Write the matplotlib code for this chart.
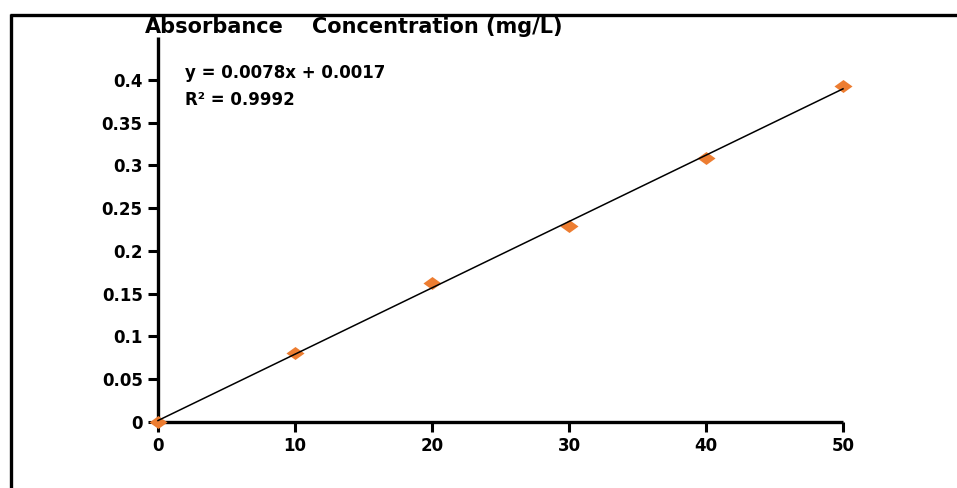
import numpy as np
import matplotlib
matplotlib.use("Agg")
import matplotlib.pyplot as plt
from matplotlib.lines import Line2D
from matplotlib.path import Path

# Calibration standards
concentration = [0, 10, 20, 30, 40, 50]          # mg/L
absorbance = [0.0, 0.0806, 0.1625, 0.229, 0.3086, 0.3927]

x_ticks = [0, 10, 20, 30, 40, 50]
y_ticks = [0, 0.05, 0.1, 0.15, 0.2, 0.25, 0.3, 0.35, 0.4]
x_tick_labels = ["0", "10", "20", "30", "40", "50"]
y_tick_labels = ["0", "0.05", "0.1", "0.15", "0.2", "0.25", "0.3", "0.35", "0.4"]

title_text = "Absorbance"
xlabel_text = "Concentration (mg/L)"

W, H = 957, 488
fig = plt.figure(figsize=(W / 100, H / 100), dpi=100)
fig.patch.set_facecolor("white")

# chart frame (top and left edges)
fig.add_artist(Line2D([10 / W, 1.0], [1 - 15 / H, 1 - 15 / H], color="black", lw=2.4,
                      transform=fig.transFigure, solid_capstyle="butt"))
fig.add_artist(Line2D([11 / W, 11 / W], [0.0, 1 - 14 / H], color="black", lw=2.4,
                      transform=fig.transFigure, solid_capstyle="butt"))

left, right, bottom, top = 158, 843, 422, 37
ax = fig.add_axes([left / W, 1 - bottom / H, (right - left) / W, (bottom - top) / H])
ax.set_xlim(0, 50)
ax.set_ylim(0, 0.45)
for s in ("top", "right"):
    ax.spines[s].set_visible(False)
for s in ("left", "bottom"):
    ax.spines[s].set_linewidth(2.4)
    ax.spines[s].set_capstyle("butt")
ax.set_xticks(x_ticks, x_tick_labels)
ax.set_yticks(y_ticks, y_tick_labels)
ax.tick_params(axis="both", direction="out", length=7, width=2.2,
               labelsize=12, pad=4)
for lab in ax.get_xticklabels() + ax.get_yticklabels():
    lab.set_fontweight("bold")

# linear fit
slope, intercept = np.polyfit(concentration, absorbance, 1)
pred = slope * np.array(concentration) + intercept
ss_res = np.sum((np.array(absorbance) - pred) ** 2)
ss_tot = np.sum((np.array(absorbance) - np.mean(absorbance)) ** 2)
r2 = 1 - ss_res / ss_tot

diamond = Path([(-1, 0), (0, 0.72), (1, 0), (0, -0.72), (-1, 0)],
               [Path.MOVETO, Path.LINETO, Path.LINETO, Path.LINETO, Path.CLOSEPOLY])
ax.plot(concentration, absorbance, linestyle="none", marker=diamond, markersize=13,
        color="#ED7D31", markeredgewidth=0, clip_on=False, zorder=3)
xf = np.array([concentration[0], concentration[-1]])
ax.plot(xf, slope * xf + intercept, color="black", lw=1.1, zorder=4, clip_on=False)

eq_text = f"y = {slope:.4f}x + {intercept:.4f}"
r2_text = f"R² = {r2:.4f}"
ax.text(0.04, 0.93, eq_text, transform=ax.transAxes, ha="left", va="top",
        fontsize=12, fontweight="bold")
ax.text(0.04, 0.86, r2_text, transform=ax.transAxes, ha="left", va="top",
        fontsize=12, fontweight="bold")

# axis titles along the top band of the chart
font = dict(fontsize=15, fontweight="bold", color="black")
ty = 1 - 33 / H
fig.text(145 / W, ty, title_text, ha="left", va="baseline", **font)
fig.text(562 / W, ty, xlabel_text, ha="right", va="baseline", **font)

fig.savefig("out.png", dpi=100, facecolor="white")
